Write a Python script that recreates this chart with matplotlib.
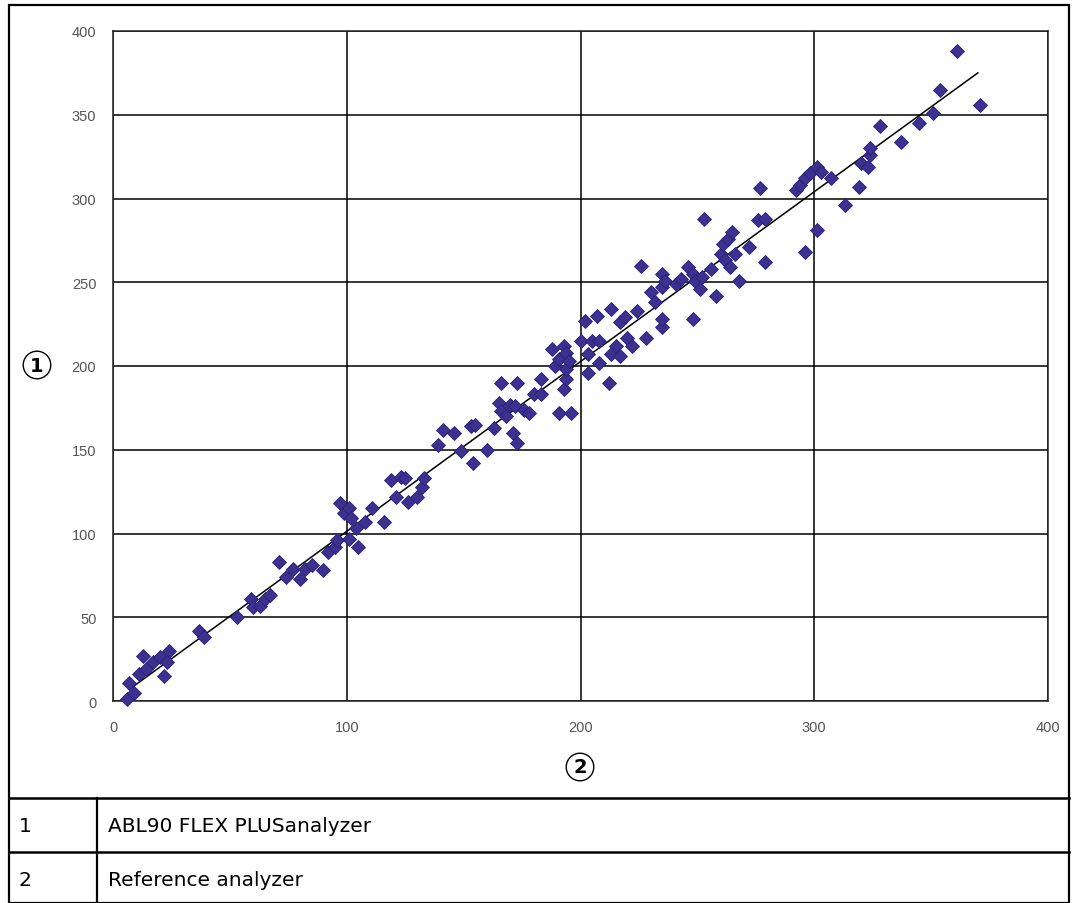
import matplotlib.pyplot as plt
from matplotlib.patches import Rectangle
from matplotlib.lines import Line2D

# reference analyzer (x) vs ABL90 FLEX PLUS (y)
ref_x = [6, 7, 9, 11, 13, 14, 17, 20, 22, 24, 23, 37, 39, 53, 59, 60, 63, 65, 67,
         71, 74, 77, 80, 82, 85, 90, 92, 95, 96, 97, 99, 101, 102, 101, 104, 105,
         108, 111, 116, 119, 121, 123, 125, 126, 130, 132, 133, 139, 141, 146,
         149, 153, 154, 155, 160, 163, 165, 166, 166, 168, 170, 171, 172, 173,
         173, 176, 178, 180, 183, 183, 188, 189, 191, 191, 193, 193, 194, 194,
         194, 195, 196, 200, 203, 202, 203, 205, 207, 208, 208, 212, 213, 213,
         215, 217, 217, 219, 220, 222, 224, 226, 228, 230, 232, 235, 235, 235,
         235, 236, 241, 243, 246, 248, 248, 249, 251, 252, 253, 256, 258, 260,
         261, 262, 263, 264, 265, 266, 268, 272, 276, 277, 279, 279, 292, 294,
         296, 298, 301, 303, 307, 301, 296, 313, 319, 320, 323, 324, 324, 328,
         337, 345, 351, 354, 361, 371]
abl_y = [1, 11, 5, 16, 27, 19, 23, 26, 15, 30, 23, 42, 38, 50, 61, 56, 57, 61, 63,
         83, 74, 79, 73, 79, 81, 78, 89, 92, 96, 118, 112, 115, 109, 97, 103, 92,
         107, 115, 107, 132, 122, 134, 133, 119, 122, 128, 133, 153, 162, 160,
         149, 164, 142, 165, 150, 163, 178, 190, 173, 170, 177, 160, 176, 190,
         154, 174, 172, 183, 192, 183, 210, 200, 172, 204, 212, 186, 208, 192,
         198, 203, 172, 215, 207, 227, 196, 215, 230, 202, 215, 190, 234, 207,
         212, 226, 206, 229, 217, 212, 233, 260, 217, 244, 238, 255, 247, 223,
         228, 251, 249, 252, 259, 228, 255, 251, 246, 253, 288, 258, 242, 267,
         273, 263, 276, 259, 280, 267, 251, 271, 287, 306, 288, 262, 305, 308,
         312, 315, 319, 316, 312, 281, 268, 296, 307, 321, 319, 326, 330, 343,
         334, 345, 351, 365, 388, 356]

fit_x = [8, 370]
fit_y = [8, 375]

ticks = [0, 100, 200, 300, 400]
yticks = [0, 50, 100, 150, 200, 250, 300, 350, 400]
rows = [("1", "ABL90 FLEX PLUSanalyzer"), ("2", "Reference analyzer")]

W, H = 1072, 904
fig = plt.figure(figsize=(W / 100, H / 100), dpi=100)

def fx(px):
    return px / W

def fy(py):
    return 1 - py / H

ax = fig.add_axes([fx(113), fy(702), fx(1048) - fx(113), fy(32) - fy(702)])
ax.set_xlim(0, 400)
ax.set_ylim(0, 400)
ax.set_xticks(ticks)
ax.set_yticks(yticks)
ax.grid(True, color="black", linewidth=1.1)
ax.set_axisbelow(True)
ax.tick_params(length=0, labelsize=10.5, labelcolor="#555555", pad=14)
ax.tick_params(axis="y", pad=12)
for s in ax.spines.values():
    s.set_linewidth(1.1)
    s.set_color("#222222")
for lab in ax.get_xticklabels() + ax.get_yticklabels():
    lab.set_family("Liberation Sans")

ax.plot(fit_x, fit_y, color="black", linewidth=1.1, zorder=2)
ax.plot(ref_x, abl_y, "D", color="#3c3090", markeredgecolor="#2a2070",
        markeredgewidth=0.6, markersize=7.5, zorder=3, clip_on=False)

# circled axis markers
circ = dict(boxstyle="circle,pad=0.22", fc="white", ec="black", lw=1.0)
fig.text(fx(37), fy(366), "1", ha="center", va="center", fontsize=14,
         fontweight="bold", bbox=circ)
fig.text(fx(580), fy(768), "2", ha="center", va="center", fontsize=14,
         fontweight="bold", bbox=circ)

# outer frame and table lines
fig.add_artist(Rectangle((fx(9), fy(904)), fx(1069) - fx(9), fy(6) - fy(904),
                         transform=fig.transFigure, fill=False, ec="black", lw=1.6))
fig.add_artist(Line2D([fx(9), fx(1069)], [fy(799), fy(799)],
                      transform=fig.transFigure, color="black", lw=1.8))
fig.add_artist(Line2D([fx(9), fx(1069)], [fy(853), fy(853)],
                      transform=fig.transFigure, color="black", lw=1.8))
fig.add_artist(Line2D([fx(97), fx(97)], [fy(799), fy(904)],
                      transform=fig.transFigure, color="black", lw=1.6))

for i, (num, txt) in enumerate(rows):
    yc = fy(827 + i * 54)
    fig.text(fx(19), yc, num, ha="left", va="center", fontsize=14.5)
    fig.text(fx(108), yc, txt, ha="left", va="center", fontsize=14.5)

fig.savefig("out.png", dpi=100)
